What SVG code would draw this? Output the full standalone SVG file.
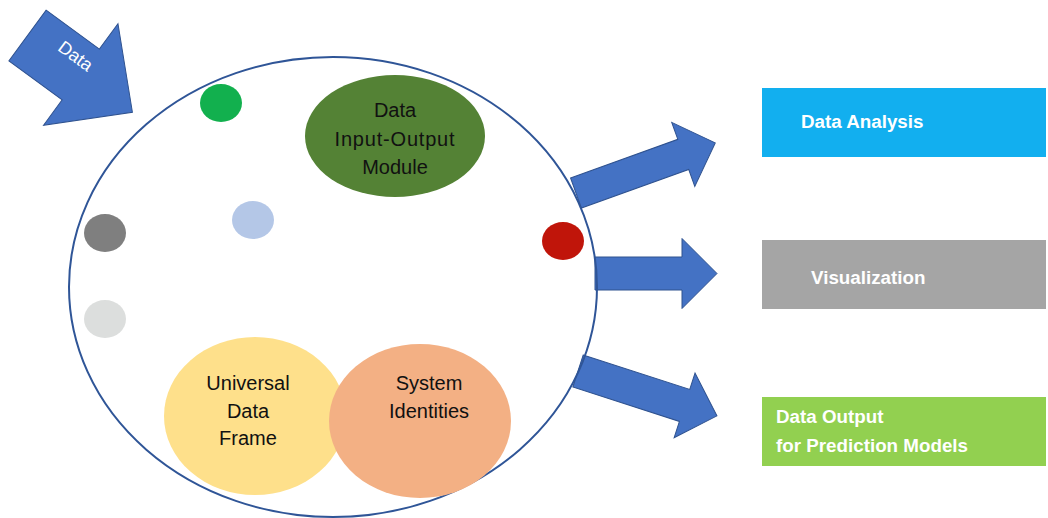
<svg xmlns="http://www.w3.org/2000/svg" width="1048" height="518" viewBox="0 0 1048 518">
  <style>
    .arrow { fill: #4472C4; stroke: #2F528F; stroke-width: 1; }
    .lbl { font-family: "Liberation Sans", Arial, sans-serif; font-size: 20px; fill: #111; text-anchor: middle; }
    .box-lbl { font-family: "Liberation Sans", Arial, sans-serif; font-size: 18.8px; font-weight: bold; fill: #fff; }
    .dot { stroke: none; }
  </style>

  <rect width="1048" height="518" fill="#fff"/>

  <!-- block arrows -->
  <g id="connectors">
    <g id="arrow-in" transform="translate(27.5,35.5) rotate(36.2)">
      <polygon class="arrow" points="0,-31.5 66,-31.5 66,-63 130,0 66,63 66,31.5 0,31.5"/>
    </g>
    <g id="arrow-analysis" transform="translate(576,193) rotate(-19.8)">
      <polygon class="arrow" points="0,-16 114,-16 114,-34 148,0 114,34 114,16 0,16"/>
    </g>
    <g id="arrow-visualization" transform="translate(595,273.5)">
      <polygon class="arrow" points="0,-16.5 87,-16.5 87,-35 122,0 87,35 87,16.5 0,16.5"/>
    </g>
    <g id="arrow-output" transform="translate(578,371) rotate(17.9)">
      <polygon class="arrow" points="0,-16.8 112,-16.8 112,-34 146,0 112,34 112,16.8 0,16.8"/>
    </g>
    <text transform="translate(72,61) rotate(36.2)" font-family="Liberation Sans, Arial, sans-serif" font-size="18" fill="#fff" text-anchor="middle">Data</text>
  </g>

  <!-- container -->
  <g id="system">
    <ellipse cx="333" cy="287" rx="264" ry="230" fill="none" stroke="#2F5597" stroke-width="2"/>
  </g>

  <g id="dot-green"><ellipse class="dot" cx="221" cy="103" rx="21" ry="19" fill="#12B04E"/></g>
  <g id="dot-darkgray"><ellipse class="dot" cx="105" cy="233" rx="21" ry="19" fill="#7F7F7F"/></g>
  <g id="dot-lightgray"><ellipse class="dot" cx="105" cy="319" rx="21" ry="19" fill="#DCDEDD"/></g>
  <g id="dot-lightblue"><ellipse class="dot" cx="253" cy="220" rx="21" ry="19" fill="#B4C7E7"/></g>
  <g id="dot-red"><ellipse class="dot" cx="563" cy="241" rx="21" ry="19" fill="#C0150A"/></g>

  <g id="io-module">
    <ellipse cx="395" cy="136" rx="90" ry="61" fill="#548235"/>
    <text class="lbl" x="395" y="117">Data</text>
    <text class="lbl" x="395" y="146" letter-spacing="0.8">Input-Output</text>
    <text class="lbl" x="395" y="174">Module</text>
  </g>

  <g id="universal-frame">
    <ellipse cx="255" cy="416" rx="91" ry="79" fill="#FEE08B"/>
    <text class="lbl" x="248" y="390">Universal</text>
    <text class="lbl" x="248" y="418">Data</text>
    <text class="lbl" x="248" y="445">Frame</text>
  </g>

  <g id="system-identities">
    <ellipse cx="420" cy="421" rx="91" ry="77" fill="#F3B084"/>
    <text class="lbl" x="429" y="390">System</text>
    <text class="lbl" x="429" y="418">Identities</text>
  </g>

  <g id="data-analysis">
    <rect x="762" y="88" width="284" height="69" fill="#12AFEF"/>
    <text class="box-lbl" x="801" y="128">Data Analysis</text>
  </g>

  <g id="visualization">
    <rect x="762" y="240" width="284" height="69" fill="#A5A5A5"/>
    <text class="box-lbl" x="811" y="284">Visualization</text>
  </g>

  <g id="data-output">
    <rect x="762" y="397" width="284" height="69" fill="#92D050"/>
    <text class="box-lbl" x="776" y="423">Data Output</text>
    <text class="box-lbl" x="776" y="452">for Prediction Models</text>
  </g>
</svg>
